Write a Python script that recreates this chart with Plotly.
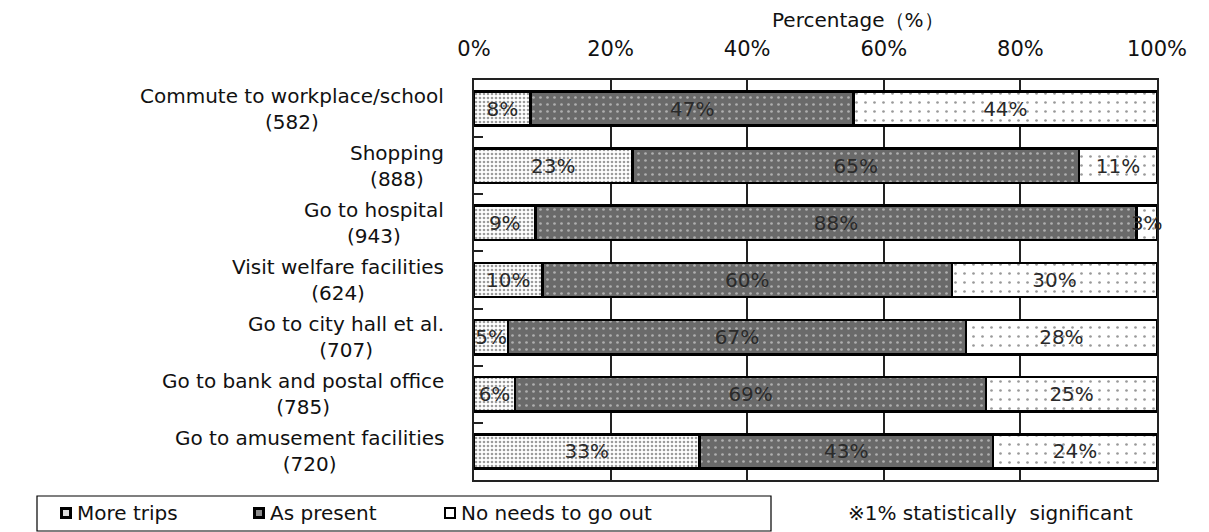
import plotly.graph_objects as go

# Trip purposes (sample size in parentheses)
purposes = [
    "Commute to workplace/school<br>(582)",
    "Shopping<br>(888)",
    "Go to hospital<br>(943)",
    "Visit welfare facilities<br>(624)",
    "Go to city hall et al.<br>(707)",
    "Go to bank and postal office<br>(785)",
    "Go to amusement facilities<br>(720)",
]

# Share of respondents (%), shown rounded to whole percent
more_trips = [8.3, 23.2, 9, 10, 5, 6, 33]
as_present = [47.3, 65.4, 88, 60, 67, 69, 43]
no_needs = [44.4, 11.4, 3, 30, 28, 25, 24]

series_names = ["More trips", "As present", "No needs to go out"]
x_ticks = [0, 20, 40, 60, 80, 100]

FONT = "DejaVu Sans, Arial, sans-serif"
TXT = "#111111"

# plot-area geometry in pixels (used to place the hand-drawn legend)
W, H = 1209, 532
L, R, T, B = 474, 52, 80, 52
PW, PH = W - L - R, H - T - B


def px_x(px):
    return (px - L) / PW


def px_y(py):
    return (H - B - py) / PH


patterns = [
    dict(shape=".", bgcolor="white", fgcolor="#3a3a3a", size=4, solidity=0.35),
    dict(shape=".", bgcolor="#6a6a6a", fgcolor="#f4f4f4", size=7, solidity=0.12),
    dict(shape=".", bgcolor="white", fgcolor="#333333", size=9, solidity=0.07),
]

keys = list(range(len(purposes)))

fig = go.Figure()
for name, vals, pat in zip(series_names, [more_trips, as_present, no_needs], patterns):
    fig.add_trace(go.Bar(
        name=name,
        y=keys,
        x=vals,
        orientation="h",
        width=0.6,
        marker=dict(color=pat["bgcolor"], pattern=pat,
                    line=dict(color="black", width=2.5)),
        text=[f"{v:.0f}%" for v in vals],
        textposition="inside",
        insidetextanchor="middle",
        constraintext="none",
        textangle=0,
        cliponaxis=False,
        textfont=dict(family=FONT, size=20, color="#2a2a2a"),
        hoverinfo="skip",
        showlegend=False,
    ))

# Category labels, each line centred
for k, lab in zip(keys, purposes):
    fig.add_annotation(
        x=0, y=k, xref="paper", yref="y",
        text=lab, showarrow=False, xanchor="right", yanchor="middle",
        align="center", xshift=-28,
        font=dict(family=FONT, size=20, color=TXT),
    )

# Axis title
fig.add_annotation(
    x=px_x(858), y=px_y(20), xref="paper", yref="paper",
    text="Percentage（%）", showarrow=False, xanchor="center", yanchor="middle",
    font=dict(family=FONT, size=20, color=TXT),
)

# Legend box with swatches
shapes = [dict(type="rect", xref="paper", yref="paper",
               x0=px_x(37), x1=px_x(771), y0=px_y(531), y1=px_y(496),
               line=dict(color="black", width=1.2), fillcolor="white", layer="above")]
swatch_cx = [66, 259, 450]
swatch_inner = [("#dcdcdc", 3), ("#8c8c8c", 3), ("white", 2)]
for cx, (fill, pad), name in zip(swatch_cx, swatch_inner, series_names):
    shapes.append(dict(type="rect", xref="paper", yref="paper",
                       x0=px_x(cx - 6), x1=px_x(cx + 6),
                       y0=px_y(519), y1=px_y(507),
                       line=dict(width=0), fillcolor="black", layer="above"))
    shapes.append(dict(type="rect", xref="paper", yref="paper",
                       x0=px_x(cx - 6 + pad), x1=px_x(cx + 6 - pad),
                       y0=px_y(519 - pad), y1=px_y(507 + pad),
                       line=dict(width=0), fillcolor=fill, layer="above"))
    fig.add_annotation(
        x=px_x(cx + 9), y=px_y(513), xref="paper", yref="paper",
        text=name, showarrow=False, xanchor="left", yanchor="middle",
        font=dict(family=FONT, size=20, color=TXT),
    )

fig.add_annotation(
    x=px_x(990), y=px_y(513), xref="paper", yref="paper",
    text="※1% statistically  significant", showarrow=False,
    xanchor="center", yanchor="middle",
    font=dict(family=FONT, size=20, color=TXT),
)

fig.update_layout(
    width=W, height=H,
    margin=dict(l=L, r=R, t=T, b=B),
    barmode="stack",
    plot_bgcolor="white", paper_bgcolor="white",
    font=dict(family=FONT, size=20, color=TXT),
    showlegend=False,
    shapes=shapes,
    xaxis=dict(
        side="top", range=[0, 100.001], tickvals=x_ticks,
        ticktext=[f"{t}%" for t in x_ticks],
        showgrid=True, gridcolor="#222222", gridwidth=1.5,
        showline=True, linecolor="#222222", linewidth=1.5, mirror=True,
        ticks="", zeroline=False, ticklabelstandoff=14,
        tickfont=dict(family=FONT, size=21, color=TXT),
    ),
    yaxis=dict(
        range=[len(purposes) - 0.5, -0.5], tickvals=[k + 0.5 for k in keys[:-1]],
        showticklabels=False, ticks="inside", ticklen=9, tickcolor="#222222",
        tickwidth=1.5, showgrid=False, zeroline=False,
        showline=True, linecolor="#222222", linewidth=1.5, mirror=True,
    ),
)

fig.write_html("out.html")
